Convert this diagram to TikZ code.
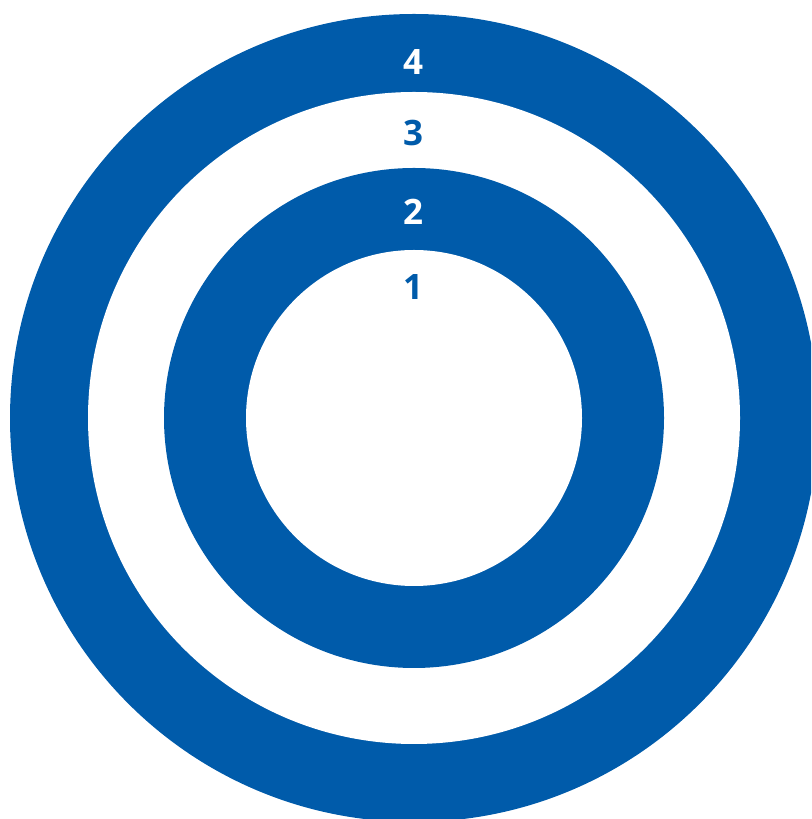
\documentclass[tikz,border=0pt]{standalone}
\usepackage{fontspec}
\setmainfont{Open Sans}
\definecolor{ringblue}{HTML}{005BAA}
\begin{document}
\begin{tikzpicture}[x=1pt,y=1pt,
  lbl/.style={font=\fontsize{35}{35}\selectfont\bfseries, anchor=center, inner sep=0pt}]
\useasboundingbox (0,0) rectangle (811,819);
\begin{scope}
\clip (0,0) rectangle (811,819);
\fill[ringblue] (414,401) circle (404);
\fill[white] (414,401) circle (326);
\fill[ringblue] (414,401) circle (250);
\fill[white] (414,401) circle (168);
\end{scope}
\node[lbl, text=white] (l4) at (413,757) {4};
\node[lbl, text=ringblue] (l3) at (413,686) {3};
\node[lbl, text=white] (l2) at (413,607) {2};
\node[lbl, text=ringblue] (l1) at (413,532) {1};
\end{tikzpicture}
\end{document}
